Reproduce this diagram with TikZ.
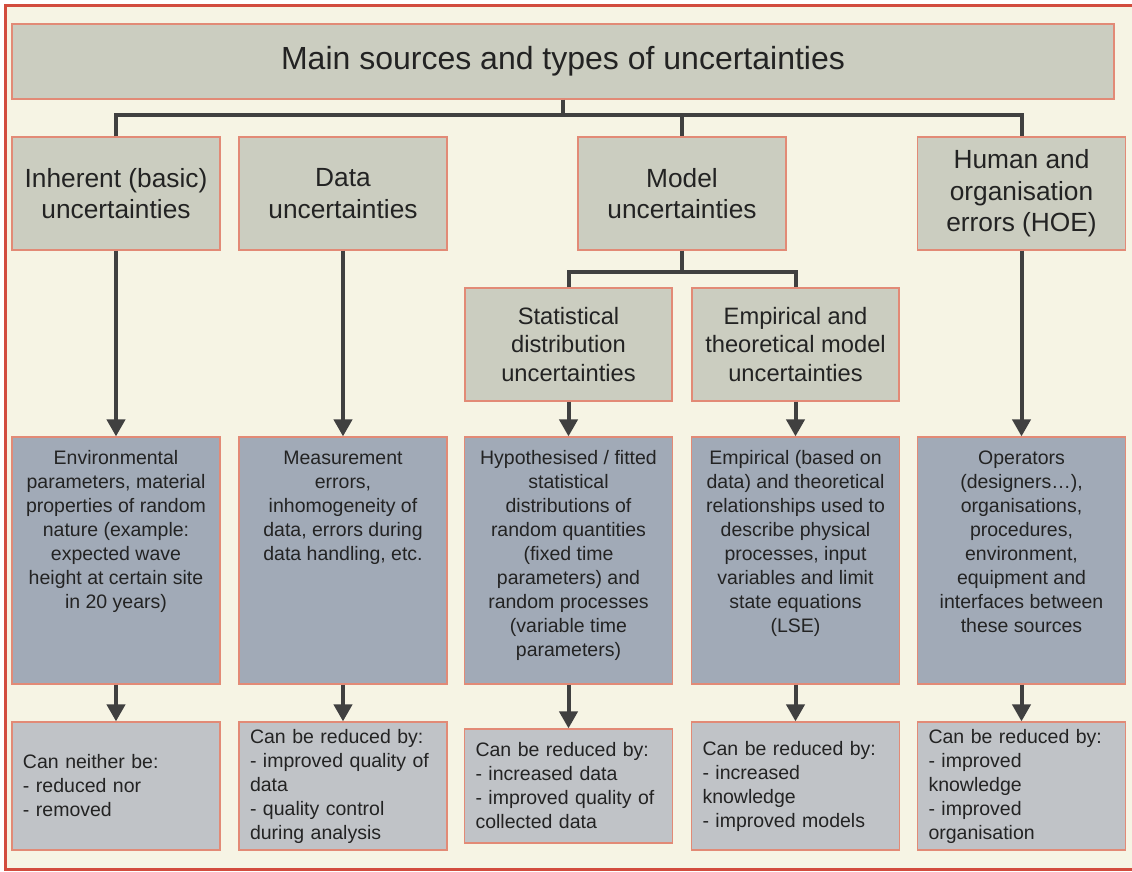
\documentclass[tikz,border=0pt]{standalone}
\usepackage{fontspec}
\setmainfont{Liberation Sans}
\usetikzlibrary{arrows.meta,positioning}

\definecolor{paper}{RGB}{246,244,228}
\definecolor{sage}{RGB}{203,205,192}
\definecolor{slate}{RGB}{161,170,183}
\definecolor{ash}{RGB}{192,195,199}
\definecolor{edge}{RGB}{226,138,118}
\definecolor{wire}{RGB}{64,64,64}
\definecolor{ink}{RGB}{35,35,35}
\definecolor{frame}{RGB}{210,76,62}

\begin{document}
\begin{tikzpicture}[x=1pt,y=-1pt,
    box/.style={draw=edge, line width=1.2pt, inner sep=0pt, text=ink},
    titlebox/.style={box, fill=sage, minimum width=1102pt, minimum height=75pt,
        font=\fontsize{32}{38}\selectfont},
    headbox/.style={box, fill=sage, minimum width=208pt, minimum height=113pt,
        align=center, font=\fontsize{26.3}{31.5}\selectfont},
    subbox/.style={box, fill=sage, minimum width=207pt, minimum height=113pt,
        align=center, font=\fontsize{23.7}{28.3}\selectfont},
    descbox/.style={box, fill=slate, minimum width=208pt, minimum height=247pt},
    desctext/.style={anchor=north, inner sep=0pt, text=ink, align=center,
        font=\fontsize{19.5}{24}\selectfont},
    remedybox/.style={box, fill=ash, minimum height=128pt, text width=186pt,
        inner xsep=11pt, align=left, font=\fontsize{19.5}{24}\selectfont},
    link/.style={draw=wire, line width=4pt},
    flow/.style={link, -{Triangle[width=18pt,length=17pt]}}
]

\useasboundingbox (0,0) rectangle (1132,872);
\fill[paper] (5.5,5.5) rectangle (1132,869.5);
\draw[frame, line width=3pt] (1132,5.5) -- (5.5,5.5) -- (5.5,869.5) -- (1132,869.5);

% Title
\node[titlebox] (title) at (563,61.5) {Main sources and types of uncertainties};

% Main categories
\node[headbox] (inherent) at (116,193.5) {Inherent (basic)\\uncertainties};
\node[headbox] (data) at (343,193.5) {Data\\uncertainties};
\node[headbox] (model) at (682,193.5) {Model\\uncertainties};
\node[headbox] (hoe) at (1021.5,193.5) {Human and\\organisation\\errors (HOE)};

% Model sub-categories
\node[subbox] (statist) at (568.5,344.5) {Statistical\\distribution\\uncertainties};
\node[subbox] (empir) at (795.5,344.5) {Empirical and\\theoretical model\\uncertainties};

% Descriptions
\node[descbox] (envpar) at (116,560.5) {};
\node[descbox] (measure) at (343,560.5) {};
\node[descbox] (hypo) at (568.5,560.5) {};
\node[descbox] (emprel) at (795.5,560.5) {};
\node[descbox] (operators) at (1021.5,560.5) {};

\node[desctext] (envtxt) at ([yshift=-14pt]envpar.north) {Environmental\\parameters, material\\properties of random\\nature (example:\\expected wave\\height at certain site\\in 20 years)};
\node[desctext] (meastxt) at ([yshift=-14pt]measure.north) {Measurement\\errors,\\inhomogeneity of\\data, errors during\\data handling, etc.};
\node[desctext] (hypotxt) at ([yshift=-14pt]hypo.north) {Hypothesised / fitted\\statistical\\distributions of\\random quantities\\(fixed time\\parameters) and\\random processes\\(variable time\\parameters)};
\node[desctext] (emptxt) at ([yshift=-14pt]emprel.north) {Empirical (based on\\data) and theoretical\\relationships used to\\describe physical\\processes, input\\variables and limit\\state equations\\(LSE)};
\node[desctext] (optxt) at ([yshift=-14pt]operators.north) {Operators\\(designers…),\\organisations,\\procedures,\\environment,\\equipment and\\interfaces between\\these sources};

% Remedies
\node[remedybox] (fixenv) at (116,786) {Can neither be:\\- reduced nor\\- removed};
\node[remedybox] (fixmeas) at (343,786) {Can be reduced by:\\- improved quality of\\data\\- quality control\\during analysis};
\node[remedybox, minimum height=114pt] (fixhypo) at (568.5,786) {Can be reduced by:\\- increased data\\- improved quality of\\collected data};
\node[remedybox] (fixemp) at (795.5,786) {Can be reduced by:\\- increased\\knowledge\\- improved models};
\node[remedybox] (fixop) at (1021.5,786) {Can be reduced by:\\- improved\\knowledge\\- improved\\organisation};

% Tree from title
\coordinate (bar) at (563,115);
\draw[link] (title.south) -- (title.south |- bar);
\draw[link] (inherent.north) -- (inherent.north |- bar) -- (hoe.north |- bar) -- (hoe.north);
\draw[link] (model.north |- bar) -- (model.north);

% Model branch
\coordinate (mbar) at (682,272);
\draw[link] (model.south) -- (mbar);
\draw[link] (statist.north) -- (statist.north |- mbar) -- (empir.north |- mbar) -- (empir.north);

% Arrows
\draw[flow] (inherent.south) -- (envpar.north);
\draw[flow] (data.south) -- (measure.north);
\draw[flow] (statist.south) -- (hypo.north);
\draw[flow] (empir.south) -- (emprel.north);
\draw[flow] (hoe.south) -- (operators.north);

\draw[flow] (envpar.south) -- (fixenv.north);
\draw[flow] (measure.south) -- (fixmeas.north);
\draw[flow] (hypo.south) -- (fixhypo.north);
\draw[flow] (emprel.south) -- (fixemp.north);
\draw[flow] (operators.south) -- (fixop.north);

\end{tikzpicture}
\end{document}
